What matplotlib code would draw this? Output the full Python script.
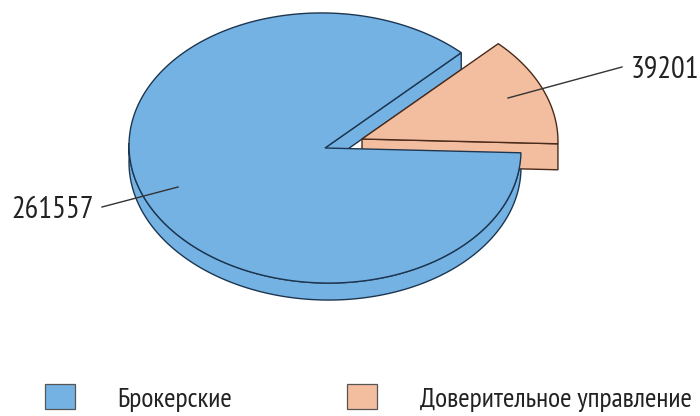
import numpy as np
import matplotlib
matplotlib.use("Agg")
import matplotlib.pyplot as plt

labels = ["Брокерские", "Доверительное управление"]
values = [261557, 39201]
colors = ["#74B2E4", "#F3BEA0"]
edges = ["#1d3650", "#4a2a1a"]

plt.rcParams["font.family"] = ["PT Sans Narrow", "DejaVu Sans"]

# geometry in pixel space
cx, cy = 325, 148
rx, ry = 196, 135
depth_big = 17
depth_small = 26
tilt = np.radians(1.4)
explode = (37, -9)


def pt(t, dx=0.0, dy=0.0, dz=0.0):
    x = rx * np.cos(t)
    y = -ry * np.sin(t)
    xr = x * np.cos(tilt) - y * np.sin(tilt)
    yr = x * np.sin(tilt) + y * np.cos(tilt)
    return np.array([cx + xr + dx, cy + yr + dy + dz])


def center(dx=0.0, dy=0.0, dz=0.0):
    return np.array([cx + dx, cy + dy + dz])


fig = plt.figure(figsize=(7, 4.16), dpi=100)
ax = fig.add_axes([0, 0, 1, 1])
ax.set_xlim(0, 700)
ax.set_ylim(416, 0)
ax.axis("off")

total = sum(values)
a_small = 2 * np.pi * values[1] / total
lw = 1.0

# big slice: rim (front half only)
ts = np.linspace(np.pi, 2 * np.pi, 200)
top = np.array([pt(t) for t in ts])
bot = np.array([pt(t, dz=depth_big) for t in ts[::-1]])
ax.add_patch(plt.Polygon(np.vstack([top, bot]), closed=True, fc=colors[0], ec=edges[0], lw=lw))

# cut face of big slice at a_small
face = np.array([center(), pt(a_small), pt(a_small, dz=depth_big), center(dz=depth_big)])
ax.add_patch(plt.Polygon(face, closed=True, fc=colors[0], ec=edges[0], lw=lw))

# small slice (exploded)
ex, ey = explode
face = np.array([center(ex, ey), pt(0, ex, ey), pt(0, ex, ey, depth_small), center(ex, ey, depth_small)])
ax.add_patch(plt.Polygon(face, closed=True, fc=colors[1], ec=edges[1], lw=lw))
ts = np.linspace(0, a_small, 100)
poly = np.vstack([center(ex, ey), np.array([pt(t, ex, ey) for t in ts])])
ax.add_patch(plt.Polygon(poly, closed=True, fc=colors[1], ec=edges[1], lw=lw))

# big top face
ts = np.linspace(a_small, 2 * np.pi, 400)
poly = np.vstack([center(), np.array([pt(t) for t in ts])])
ax.add_patch(plt.Polygon(poly, closed=True, fc=colors[0], ec=edges[0], lw=lw))

# value labels with leader lines
ax.plot([102, 178], [207, 187], color="#333333", lw=1)
ax.text(11, 218, f"{values[0]}", fontsize=22, color="#222222", ha="left", va="baseline")
ax.plot([508, 622], [98, 67], color="#333333", lw=1)
ax.text(631, 78, f"{values[1]}", fontsize=22, color="#222222", ha="left", va="baseline")

# legend
for x0, tx, c, lab in [(45, 117, colors[0], labels[0]),
                       (347, 420, colors[1], labels[1])]:
    ax.add_patch(plt.Rectangle((x0, 384), 30, 25, fc=c, ec="#555555", lw=0.9))
    ax.text(tx, 407, lab, fontsize=20, color="#222222", ha="left", va="baseline")

fig.savefig("out.png", dpi=100)
